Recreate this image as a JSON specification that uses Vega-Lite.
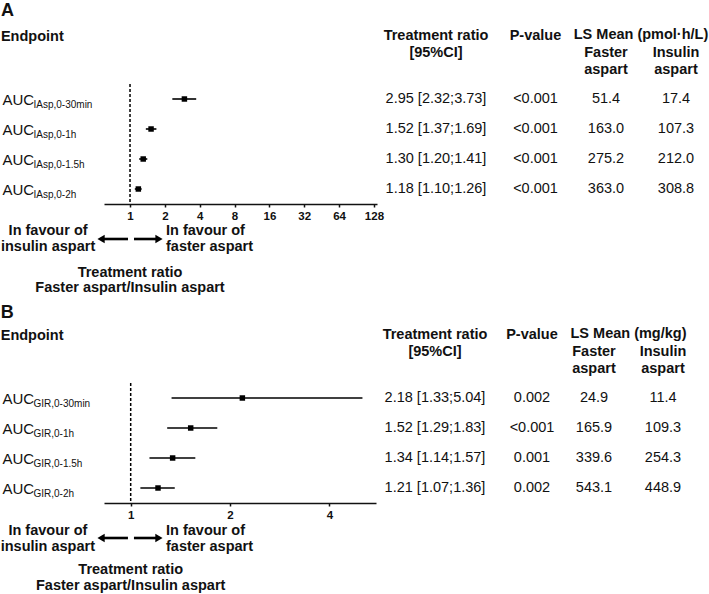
{
  "$schema": "https://vega.github.io/schema/vega-lite/v6.json",
  "padding": {"left": 0, "top": 2, "right": 0, "bottom": 0},
  "autosize": {"type": "pad"},
  "background": "white",
  "datasets": {
    "a": [
      {"sub": "IAsp,0-30min", "ratio": 2.95, "lo": 2.32, "hi": 3.73, "ci": "2.95 [2.32;3.73]", "p": "<0.001", "faster": 51.4, "insulin": 17.4},
      {"sub": "IAsp,0-1h", "ratio": 1.52, "lo": 1.37, "hi": 1.69, "ci": "1.52 [1.37;1.69]", "p": "<0.001", "faster": 163.0, "insulin": 107.3},
      {"sub": "IAsp,0-1.5h", "ratio": 1.30, "lo": 1.20, "hi": 1.41, "ci": "1.30 [1.20;1.41]", "p": "<0.001", "faster": 275.2, "insulin": 212.0},
      {"sub": "IAsp,0-2h", "ratio": 1.18, "lo": 1.10, "hi": 1.26, "ci": "1.18 [1.10;1.26]", "p": "<0.001", "faster": 363.0, "insulin": 308.8}
    ],
    "b": [
      {"sub": "GIR,0-30min", "ratio": 2.18, "lo": 1.33, "hi": 5.04, "ci": "2.18 [1.33;5.04]", "p": "0.002", "faster": 24.9, "insulin": 11.4},
      {"sub": "GIR,0-1h", "ratio": 1.52, "lo": 1.29, "hi": 1.83, "ci": "1.52 [1.29;1.83]", "p": "<0.001", "faster": 165.9, "insulin": 109.3},
      {"sub": "GIR,0-1.5h", "ratio": 1.34, "lo": 1.14, "hi": 1.57, "ci": "1.34 [1.14;1.57]", "p": "0.001", "faster": 339.6, "insulin": 254.3},
      {"sub": "GIR,0-2h", "ratio": 1.21, "lo": 1.07, "hi": 1.36, "ci": "1.21 [1.07;1.36]", "p": "0.002", "faster": 543.1, "insulin": 448.9}
    ]
  },
  "bounds": "flush",
  "spacing": 299,
  "vconcat": [
    {
      "title": {"text": "A", "anchor": "start", "frame": "bounds", "fontSize": 18, "offset": 7},
      "bounds": "flush",
      "spacing": 0,
      "hconcat": [
        {
          "width": 273, "height": 120,
          "data": {"name": "a"},
          "title": {"text": "Endpoint", "anchor": "start", "frame": "bounds", "offset": 39},
          "resolve": {"axis": {"y": "independent"}},
          "layer": [
            {
              "data": {"values": [{}]},
              "mark": {"type": "rule", "strokeDash": [3, 2], "strokeWidth": 1.5, "color": "black"},
              "encoding": {"x": {"datum": 1, "type": "quantitative", "title": null, "scale": {"type": "log", "base": 2, "domain": [0.596, 136], "nice": false}, "axis": {"values": [1, 2, 4, 8, 16, 32, 64, 128], "format": "d", "title": null}}}
            },
            {
              "mark": {"type": "rule", "strokeWidth": 1.6, "color": "black"},
              "encoding": {
                "y": {"field": "sub", "type": "nominal", "sort": null, "scale": {"type": "point", "padding": 0.5}, "axis": {"orient": "left", "title": null, "domain": false, "ticks": false, "labelExpr": "'AUC'", "labelFontSize": 15, "labelAlign": "left", "labelPadding": 102}},
                "x": {"field": "lo", "type": "quantitative", "title": null, "scale": {"type": "log", "base": 2, "domain": [0.596, 136], "nice": false}},
                "x2": {"field": "hi"}
              }
            },
            {
              "mark": {"type": "point", "shape": "square", "filled": true, "size": 30, "color": "black", "opacity": 1},
              "encoding": {
                "y": {"field": "sub", "type": "nominal", "sort": null, "axis": {"orient": "left", "title": null, "domain": false, "ticks": false, "labelFontSize": 10, "labelAlign": "left", "labelPadding": 71, "labelOffset": 5}},
                "x": {"field": "ratio", "type": "quantitative", "title": null, "scale": {"type": "log", "base": 2, "domain": [0.596, 136], "nice": false}}
              }
            },
            {
              "data": {"values": [{}]},
              "mark": {"type": "rule", "strokeWidth": 2.6, "color": "black", "yOffset": 95},
              "encoding": {"x": {"datum": 0.562, "type": "quantitative", "title": null, "scale": {"type": "log", "base": 2, "domain": [0.596, 136], "nice": false}}, "x2": {"datum": 0.961}}
            },
            {
              "data": {"values": [{}]},
              "mark": {"type": "rule", "strokeWidth": 2.6, "color": "black", "yOffset": 95},
              "encoding": {"x": {"datum": 1.083, "type": "quantitative", "title": null, "scale": {"type": "log", "base": 2, "domain": [0.596, 136], "nice": false}}, "x2": {"datum": 1.78}}
            },
            {
              "data": {"values": [{}]},
              "mark": {"type": "point", "shape": "triangle-left", "filled": true, "size": 70, "color": "black", "opacity": 1, "yOffset": 95},
              "encoding": {"x": {"datum": 0.562, "type": "quantitative", "title": null, "scale": {"type": "log", "base": 2, "domain": [0.596, 136], "nice": false}}}
            },
            {
              "data": {"values": [{}]},
              "mark": {"type": "point", "shape": "triangle-right", "filled": true, "size": 70, "color": "black", "opacity": 1, "yOffset": 95},
              "encoding": {"x": {"datum": 1.78, "type": "quantitative", "title": null, "scale": {"type": "log", "base": 2, "domain": [0.596, 136], "nice": false}}}
            },
            {
              "data": {"values": [{}]},
              "mark": {"type": "text", "text": ["In favour of", "insulin aspart"], "align": "center", "baseline": "middle", "dy": 87, "fontWeight": "bold", "fontSize": 14.5, "lineHeight": 16},
              "encoding": {"x": {"datum": 0.196, "type": "quantitative", "title": null, "scale": {"type": "log", "base": 2, "domain": [0.596, 136], "nice": false}}}
            },
            {
              "data": {"values": [{}]},
              "mark": {"type": "text", "text": ["In favour of", "faster aspart"], "align": "left", "baseline": "middle", "dy": 87, "fontWeight": "bold", "fontSize": 14.5, "lineHeight": 16},
              "encoding": {"x": {"datum": 2.046, "type": "quantitative", "title": null, "scale": {"type": "log", "base": 2, "domain": [0.596, 136], "nice": false}}}
            },
            {
              "data": {"values": [{}]},
              "mark": {"type": "text", "text": ["Treatment ratio", "Faster aspart/Insulin aspart"], "align": "center", "baseline": "middle", "dy": 129, "fontWeight": "bold", "fontSize": 14.5, "lineHeight": 15},
              "encoding": {"x": {"datum": 1, "type": "quantitative", "title": null, "scale": {"type": "log", "base": 2, "domain": [0.596, 136], "nice": false}}}
            }
          ]
        },
        {
          "width": 118, "height": 120,
          "data": {"name": "a"},
          "title": {"text": ["Treatment ratio", "[95%CI]", ""], "anchor": "middle", "frame": "group", "offset": 7},
          "mark": {"type": "text", "fontSize": 14.5},
          "encoding": {
            "y": {"field": "sub", "type": "nominal", "sort": null, "scale": {"type": "point", "padding": 0.5}, "axis": null},
            "text": {"field": "ci"}
          }
        },
        {
          "width": 81, "height": 120,
          "data": {"name": "a"},
          "title": {"text": ["P-value", "", ""], "anchor": "middle", "frame": "group", "offset": 7},
          "mark": {"type": "text", "fontSize": 14.5},
          "encoding": {
            "y": {"field": "sub", "type": "nominal", "sort": null, "scale": {"type": "point", "padding": 0.5}, "axis": null},
            "text": {"field": "p"}
          }
        },
        {
          "title": {"text": "LS Mean (pmol·h/L)", "anchor": "middle", "frame": "bounds", "offset": 2},
          "bounds": "flush",
          "spacing": 10,
          "hconcat": [
            {
              "width": 60, "height": 120,
              "data": {"name": "a"},
              "title": {"text": ["Faster", "aspart"], "anchor": "middle", "frame": "group", "offset": 7},
              "mark": {"type": "text", "fontSize": 14.5},
              "encoding": {
                "y": {"field": "sub", "type": "nominal", "sort": null, "scale": {"type": "point", "padding": 0.5}, "axis": null},
                "text": {"field": "faster", "type": "quantitative", "format": ".1f"}
              }
            },
            {
              "width": 60, "height": 120,
              "data": {"name": "a"},
              "title": {"text": ["Insulin", "aspart"], "anchor": "middle", "frame": "group", "offset": 7},
              "mark": {"type": "text", "fontSize": 14.5},
              "encoding": {
                "y": {"field": "sub", "type": "nominal", "sort": null, "scale": {"type": "point", "padding": 0.5}, "axis": null},
                "text": {"field": "insulin", "type": "quantitative", "format": ".1f"}
              }
            }
          ]
        }
      ]
    },
    {
      "title": {"text": "B", "anchor": "start", "frame": "bounds", "fontSize": 18, "offset": 4},
      "bounds": "flush",
      "spacing": 0,
      "hconcat": [
        {
          "width": 272, "height": 120,
          "data": {"name": "b"},
          "title": {"text": "Endpoint", "anchor": "start", "frame": "bounds", "offset": 39},
          "resolve": {"axis": {"y": "independent"}},
          "layer": [
            {
              "data": {"values": [{}]},
              "mark": {"type": "rule", "strokeDash": [3, 2], "strokeWidth": 1.5, "color": "black"},
              "encoding": {"x": {"datum": 1, "type": "quantitative", "title": null, "scale": {"type": "log", "base": 2, "domain": [0.83, 5.54], "nice": false}, "axis": {"values": [1, 2, 4], "format": "d", "title": null}}}
            },
            {
              "mark": {"type": "rule", "strokeWidth": 1.6, "color": "black"},
              "encoding": {
                "y": {"field": "sub", "type": "nominal", "sort": null, "scale": {"type": "point", "padding": 0.5}, "axis": {"orient": "left", "title": null, "domain": false, "ticks": false, "labelExpr": "'AUC'", "labelFontSize": 15, "labelAlign": "left", "labelPadding": 102}},
                "x": {"field": "lo", "type": "quantitative", "title": null, "scale": {"type": "log", "base": 2, "domain": [0.83, 5.54], "nice": false}},
                "x2": {"field": "hi"}
              }
            },
            {
              "mark": {"type": "point", "shape": "square", "filled": true, "size": 30, "color": "black", "opacity": 1},
              "encoding": {
                "y": {"field": "sub", "type": "nominal", "sort": null, "axis": {"orient": "left", "title": null, "domain": false, "ticks": false, "labelFontSize": 10, "labelAlign": "left", "labelPadding": 71, "labelOffset": 5}},
                "x": {"field": "ratio", "type": "quantitative", "title": null, "scale": {"type": "log", "base": 2, "domain": [0.83, 5.54], "nice": false}}
              }
            },
            {
              "data": {"values": [{}]},
              "mark": {"type": "rule", "strokeWidth": 2.6, "color": "black", "yOffset": 95},
              "encoding": {"x": {"datum": 0.813, "type": "quantitative", "title": null, "scale": {"type": "log", "base": 2, "domain": [0.83, 5.54], "nice": false}}, "x2": {"datum": 0.981}}
            },
            {
              "data": {"values": [{}]},
              "mark": {"type": "rule", "strokeWidth": 2.6, "color": "black", "yOffset": 95},
              "encoding": {"x": {"datum": 1.023, "type": "quantitative", "title": null, "scale": {"type": "log", "base": 2, "domain": [0.83, 5.54], "nice": false}}, "x2": {"datum": 1.218}}
            },
            {
              "data": {"values": [{}]},
              "mark": {"type": "point", "shape": "triangle-left", "filled": true, "size": 70, "color": "black", "opacity": 1, "yOffset": 95},
              "encoding": {"x": {"datum": 0.813, "type": "quantitative", "title": null, "scale": {"type": "log", "base": 2, "domain": [0.83, 5.54], "nice": false}}}
            },
            {
              "data": {"values": [{}]},
              "mark": {"type": "point", "shape": "triangle-right", "filled": true, "size": 70, "color": "black", "opacity": 1, "yOffset": 95},
              "encoding": {"x": {"datum": 1.218, "type": "quantitative", "title": null, "scale": {"type": "log", "base": 2, "domain": [0.83, 5.54], "nice": false}}}
            },
            {
              "data": {"values": [{}]},
              "mark": {"type": "text", "text": ["In favour of", "insulin aspart"], "align": "center", "baseline": "middle", "dy": 88, "fontWeight": "bold", "fontSize": 14.5, "lineHeight": 16},
              "encoding": {"x": {"datum": 0.561, "type": "quantitative", "title": null, "scale": {"type": "log", "base": 2, "domain": [0.83, 5.54], "nice": false}}}
            },
            {
              "data": {"values": [{}]},
              "mark": {"type": "text", "text": ["In favour of", "faster aspart"], "align": "left", "baseline": "middle", "dy": 88, "fontWeight": "bold", "fontSize": 14.5, "lineHeight": 16},
              "encoding": {"x": {"datum": 1.2795, "type": "quantitative", "title": null, "scale": {"type": "log", "base": 2, "domain": [0.83, 5.54], "nice": false}}}
            },
            {
              "data": {"values": [{}]},
              "mark": {"type": "text", "text": ["Treatment ratio", "Faster aspart/Insulin aspart"], "align": "center", "baseline": "middle", "dy": 127, "fontWeight": "bold", "fontSize": 14.5, "lineHeight": 16},
              "encoding": {"x": {"datum": 1, "type": "quantitative", "title": null, "scale": {"type": "log", "base": 2, "domain": [0.83, 5.54], "nice": false}}}
            }
          ]
        },
        {
          "width": 118, "height": 120,
          "data": {"name": "b"},
          "title": {"text": ["Treatment ratio", "[95%CI]", ""], "anchor": "middle", "frame": "group", "offset": 7},
          "mark": {"type": "text", "fontSize": 14.5},
          "encoding": {
            "y": {"field": "sub", "type": "nominal", "sort": null, "scale": {"type": "point", "padding": 0.5}, "axis": null},
            "text": {"field": "ci"}
          }
        },
        {
          "width": 76, "height": 120,
          "data": {"name": "b"},
          "title": {"text": ["P-value", "", ""], "anchor": "middle", "frame": "group", "offset": 7},
          "mark": {"type": "text", "fontSize": 14.5},
          "encoding": {
            "y": {"field": "sub", "type": "nominal", "sort": null, "scale": {"type": "point", "padding": 0.5}, "axis": null},
            "text": {"field": "p"}
          }
        },
        {
          "title": {"text": "LS Mean (mg/kg)", "anchor": "middle", "frame": "bounds", "offset": 2},
          "bounds": "flush",
          "spacing": 21,
          "hconcat": [
            {
              "width": 48, "height": 120,
              "data": {"name": "b"},
              "title": {"text": ["Faster", "aspart"], "anchor": "middle", "frame": "group", "offset": 7},
              "mark": {"type": "text", "fontSize": 14.5},
              "encoding": {
                "y": {"field": "sub", "type": "nominal", "sort": null, "scale": {"type": "point", "padding": 0.5}, "axis": null},
                "text": {"field": "faster", "type": "quantitative", "format": ".1f"}
              }
            },
            {
              "width": 48, "height": 120,
              "data": {"name": "b"},
              "title": {"text": ["Insulin", "aspart"], "anchor": "middle", "frame": "group", "offset": 7},
              "mark": {"type": "text", "fontSize": 14.5},
              "encoding": {
                "y": {"field": "sub", "type": "nominal", "sort": null, "scale": {"type": "point", "padding": 0.5}, "axis": null},
                "text": {"field": "insulin", "type": "quantitative", "format": ".1f"}
              }
            }
          ]
        }
      ]
    }
  ],
  "config": {
    "font": "Liberation Sans",
    "view": {"stroke": null},
    "title": {"font": "Liberation Sans", "fontSize": 14.5, "fontWeight": "bold", "color": "#111", "lineHeight": 17},
    "text": {"font": "Liberation Sans", "color": "#111"},
    "axis": {"labelFont": "Liberation Sans", "labelColor": "#111", "domainColor": "#111", "tickColor": "#111", "grid": false},
    "axisX": {"labelFontWeight": "bold", "labelFontSize": 11.5, "tickSize": 3, "domainWidth": 1.5, "tickWidth": 1.5, "labelPadding": 3}
  }
}
